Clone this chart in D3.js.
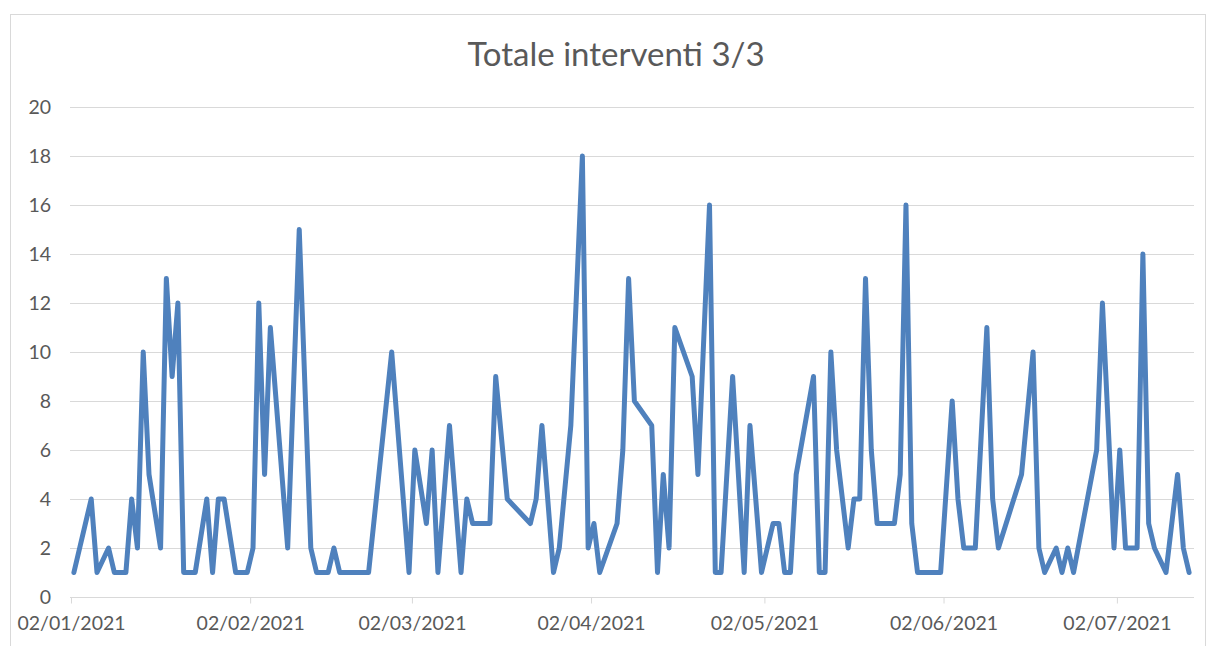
<!DOCTYPE html>
<html>
<head>
<meta charset="utf-8">
<script src="https://cdn.jsdelivr.net/npm/d3@7"></script>
<style>
  html, body { margin: 0; padding: 0; background: #ffffff; }
  svg { display: block; }
  text { font-family: "Lato", "Open Sans", sans-serif; fill: #595959; }
</style>
</head>
<body>
<svg id="chart" width="1208" height="646"></svg>
<script>
const title = "Totale interventi 3/3";

const dates = [
  "2021-01-02","2021-01-05","2021-01-06","2021-01-08","2021-01-09","2021-01-11","2021-01-12","2021-01-13",
  "2021-01-14","2021-01-15","2021-01-17","2021-01-18","2021-01-19","2021-01-20","2021-01-21","2021-01-23",
  "2021-01-25","2021-01-26","2021-01-27","2021-01-28","2021-01-30","2021-02-01","2021-02-02","2021-02-03",
  "2021-02-04","2021-02-05","2021-02-08","2021-02-10","2021-02-12","2021-02-13","2021-02-15","2021-02-16",
  "2021-02-17","2021-02-22","2021-02-26","2021-03-01","2021-03-02","2021-03-04","2021-03-05","2021-03-06",
  "2021-03-08","2021-03-10","2021-03-11","2021-03-12","2021-03-15","2021-03-16","2021-03-18","2021-03-22",
  "2021-03-23","2021-03-24","2021-03-26","2021-03-27","2021-03-29","2021-03-31","2021-04-01","2021-04-02",
  "2021-04-03","2021-04-06","2021-04-07","2021-04-08","2021-04-09","2021-04-12","2021-04-13","2021-04-14",
  "2021-04-15","2021-04-16","2021-04-19","2021-04-20","2021-04-22","2021-04-23","2021-04-24","2021-04-26",
  "2021-04-28","2021-04-29","2021-05-01","2021-05-03","2021-05-04","2021-05-05","2021-05-06","2021-05-07",
  "2021-05-10","2021-05-11","2021-05-12","2021-05-13","2021-05-14","2021-05-16","2021-05-17","2021-05-18",
  "2021-05-19","2021-05-20","2021-05-21","2021-05-24","2021-05-25","2021-05-26","2021-05-27","2021-05-28",
  "2021-06-01","2021-06-03","2021-06-04","2021-06-05","2021-06-07","2021-06-09","2021-06-10","2021-06-11",
  "2021-06-15","2021-06-17","2021-06-18","2021-06-19","2021-06-21","2021-06-22","2021-06-23","2021-06-24",
  "2021-06-28","2021-06-29","2021-07-01","2021-07-02","2021-07-03","2021-07-05","2021-07-06","2021-07-07",
  "2021-07-08","2021-07-10","2021-07-12","2021-07-13","2021-07-14"
];

const values = [
  1,4,1,2,1,1,4,2,
  10,5,2,13,9,12,1,1,
  4,1,4,4,1,1,2,12,
  5,11,2,15,2,1,1,2,
  1,1,10,1,6,3,6,1,
  7,1,4,3,3,9,4,3,
  4,7,1,2,7,18,2,3,
  1,3,6,13,8,7,1,5,
  2,11,9,5,16,1,1,9,
  1,7,1,3,3,1,1,5,
  9,1,1,10,6,2,4,4,
  13,6,3,3,5,16,3,1,
  1,8,4,2,2,11,4,2,
  5,10,2,1,2,1,2,1,
  6,12,2,6,2,2,14,3,
  2,1,5,2,1
];

const yTicks = [0, 2, 4, 6, 8, 10, 12, 14, 16, 18, 20];
const xTickDates = ["2021-01-02","2021-02-02","2021-03-02","2021-04-02","2021-05-02","2021-06-02","2021-07-02"];
const xTickLabels = ["02/01/2021","02/02/2021","02/03/2021","02/04/2021","02/05/2021","02/06/2021","02/07/2021"];
const axisStart = "2021-01-02";
const axisEnd = "2021-07-15";

const parse = d3.utcParse("%Y-%m-%d");
const data = dates.map((d, i) => ({ date: parse(d), value: values[i] }));

const svg = d3.select("#chart");

// chart border
svg.append("rect")
  .attr("x", 10.5).attr("y", 14.5)
  .attr("width", 1195).attr("height", 650)
  .attr("fill", "none").attr("stroke", "#d9d9d9").attr("stroke-width", 1);

const plotLeft = 70, plotRight = 1194;
const x = d3.scaleUtc()
  .domain([parse(axisStart), parse(axisEnd)])
  .range([71, 1192]);
const y = d3.scaleLinear().domain([0, 20]).range([597, 107]);

// gridlines
svg.append("g")
  .selectAll("line")
  .data(yTicks.filter(t => t > 0))
  .join("line")
  .attr("x1", plotLeft).attr("x2", plotRight)
  .attr("y1", d => Math.round(y(d)) + 0.5).attr("y2", d => Math.round(y(d)) + 0.5)
  .attr("stroke", "#d9d9d9").attr("stroke-width", 1);

// y axis labels
const yAxis = d3.axisLeft(y).tickValues(yTicks).tickSize(0).tickPadding(0);
const gy = svg.append("g").attr("transform", "translate(51,0)").call(yAxis);
gy.select(".domain").remove();
gy.selectAll("text")
  .attr("font-size", 19.5)
  .attr("fill", "#595959")
  .style("font-family", "Lato, 'Open Sans', sans-serif");

// x axis
const xAxis = d3.axisBottom(x)
  .tickValues(xTickDates.map(parse))
  .tickFormat((d, i) => xTickLabels[i])
  .tickSize(6).tickSizeOuter(0).tickPadding(13);
const gx = svg.append("g").attr("transform", "translate(0," + (Math.round(y(0)) + 0.5) + ")").call(xAxis);
gx.select(".domain")
  .attr("d", "M" + plotLeft + ",0H" + plotRight)
  .attr("stroke", "#d9d9d9");
gx.selectAll(".tick line").attr("stroke", "#d9d9d9");
gx.selectAll("text")
  .attr("font-size", 19.5)
  .attr("fill", "#595959")
  .style("font-family", "Lato, 'Open Sans', sans-serif");

// line
const line = d3.line()
  .x(d => x(d3.utcHour.offset(d.date, 12)))
  .y(d => y(d.value));

svg.append("path")
  .datum(data)
  .attr("d", line)
  .attr("fill", "none")
  .attr("stroke", "#4f81bd")
  .attr("stroke-width", 5)
  .attr("stroke-linejoin", "round")
  .attr("stroke-linecap", "round");

// title
svg.append("text")
  .attr("x", 616).attr("y", 66)
  .attr("text-anchor", "middle")
  .attr("font-size", 33)
  .attr("fill", "#595959")
  .text(title);
</script>
</body>
</html>
